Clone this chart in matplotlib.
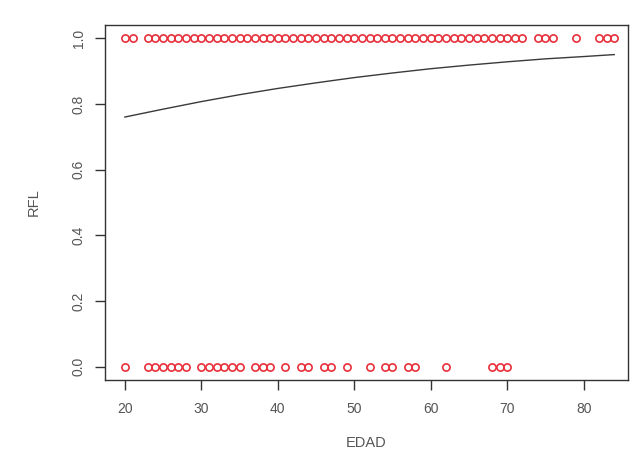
import matplotlib
matplotlib.use("Agg")
import matplotlib.pyplot as plt

# Observed ages with RFL = 1
ages_rfl1 = [20, 21] + list(range(23, 73)) + [74, 75, 76, 79, 82, 83, 84]
# Observed ages with RFL = 0
ages_rfl0 = [20, 23, 24, 25, 26, 27, 28, 30, 31, 32, 33, 34, 35, 37, 38, 39,
             41, 43, 44, 46, 47, 49, 52, 54, 55, 57, 58, 62, 68, 69, 70]
# Fitted curve
curve_ages = [20, 25, 30, 35, 40, 45, 50, 55, 60, 65, 70, 75, 80, 84]
curve_prob = [0.760, 0.784, 0.807, 0.828, 0.847, 0.864, 0.880, 0.894, 0.907,
              0.918, 0.928, 0.937, 0.944, 0.950]

xticks = [20, 30, 40, 50, 60, 70, 80]
yticks = [0.0, 0.2, 0.4, 0.6, 0.8, 1.0]

plt.rcParams['font.family'] = ['Liberation Sans', 'DejaVu Sans']

fig = plt.figure(figsize=(6.36, 4.54), dpi=100)
ax = fig.add_axes([105/636, 1-380/454, (628-105)/636, (380-25)/454])

red = '#e8303a'
ax.plot(ages_rfl1, [1]*len(ages_rfl1), linestyle='none', marker='o',
        markersize=5.2, markerfacecolor='none', markeredgecolor=red, markeredgewidth=1.2)
ax.plot(ages_rfl0, [0]*len(ages_rfl0), linestyle='none', marker='o',
        markersize=5.2, markerfacecolor='none', markeredgecolor=red, markeredgewidth=1.2)
ax.plot(curve_ages, curve_prob, color='#3a3a3a', linewidth=1.0)

ax.set_xlim(17.4, 85.8)
ax.set_ylim(-0.04, 1.04)
ax.set_xticks(xticks)
ax.set_xticklabels([str(t) for t in xticks])
ax.set_yticks(yticks)
ax.set_yticklabels([f"{t:.1f}" for t in yticks], rotation=90, va='center')

for s in ax.spines.values():
    s.set_color('#333333')
    s.set_linewidth(1.0)
ax.tick_params(direction='out', length=7, width=1, colors='#333333',
               labelsize=10, labelcolor='#555555', pad=9)
ax.tick_params(axis='y', pad=7)

ax.set_xlabel('EDAD', fontsize=10.5, color='#555555', labelpad=14)
ax.set_ylabel('RFL', fontsize=10.5, color='#555555', labelpad=22)

fig.savefig('out.png', dpi=100, facecolor='white')
